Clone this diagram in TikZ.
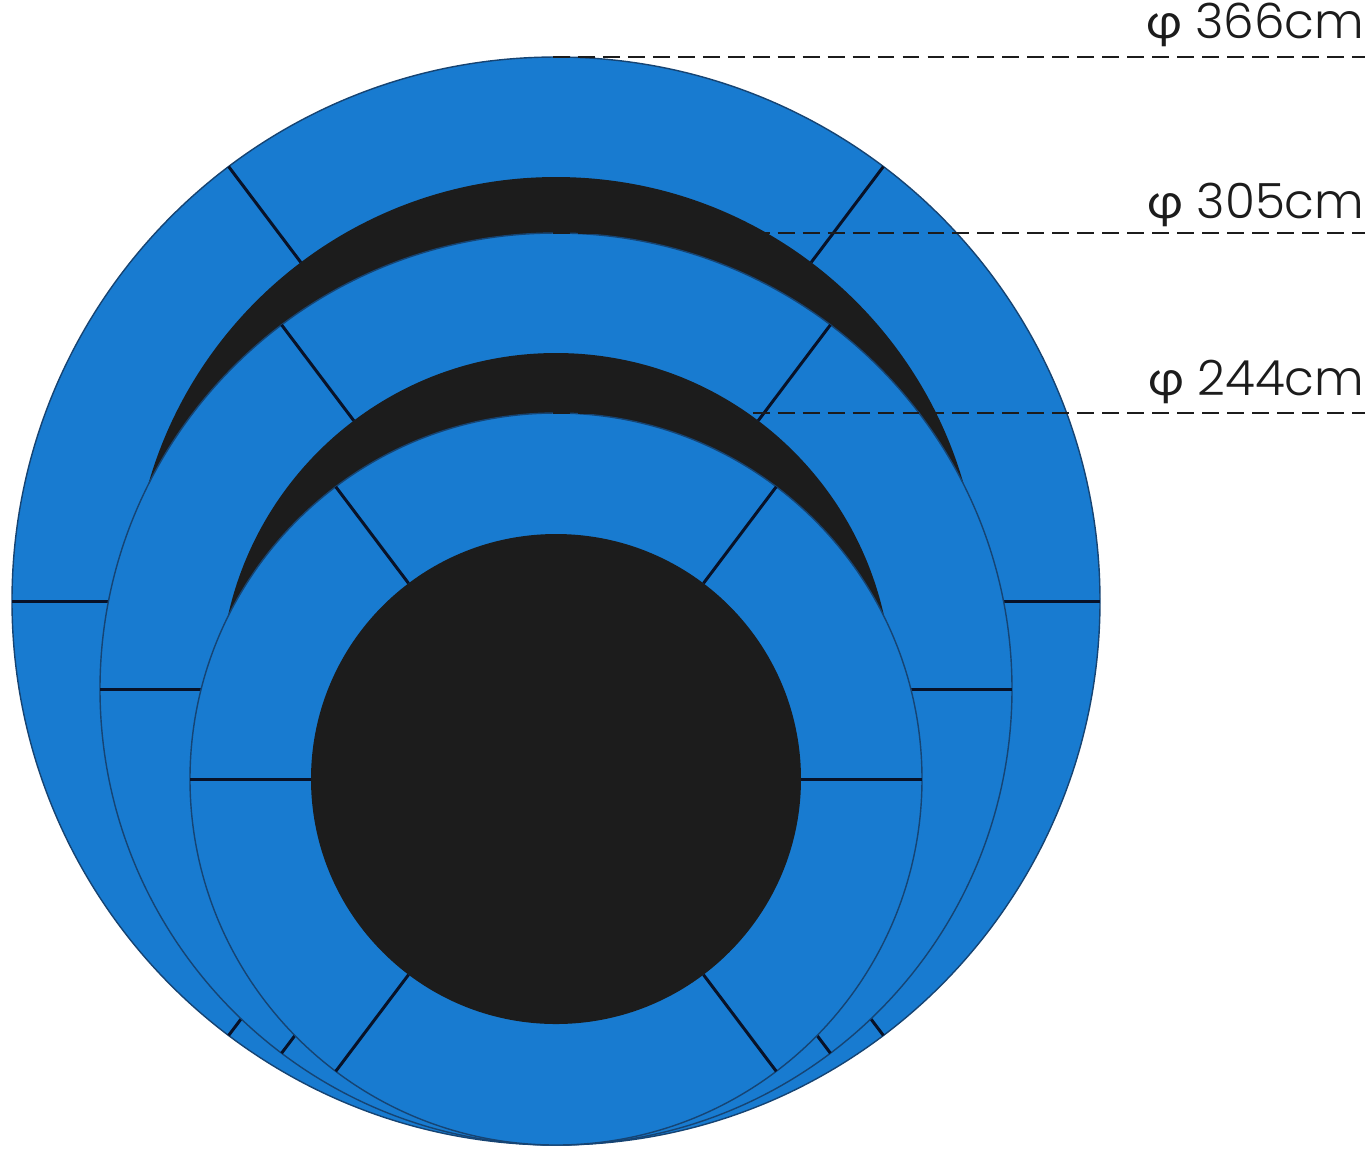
\documentclass[tikz,border=0pt]{standalone}
\usepackage{fontspec}
\setmainfont{Poppins Light}
\newfontfamily\grec{Lato}
\usetikzlibrary{calc}
\definecolor{bleu}{RGB}{24,123,208}
\definecolor{noir}{RGB}{28,28,28}
\definecolor{trait}{RGB}{8,18,40}
\definecolor{bord}{RGB}{22,68,115}
\tikzset{
  coussin/.style={fill=bleu, draw=bord, line width=0.4pt},
  toile/.style={fill=noir},
  joint/.style={draw=trait, line width=0.85pt},
  cote/.style={draw=noir, line width=0.55pt, dash pattern=on 4.8pt off 2.3pt},
  mesure/.style={anchor=base east, text=noir, font=\fontsize{13.8}{16}\selectfont, inner sep=0pt}
}
\begin{document}
\begin{tikzpicture}[x=0.01cm,y=-0.01cm]
	\useasboundingbox (0,0) rectangle (1372,1156);
	\coordinate (G) at (556,601);
	\coordinate (M) at (556,689);
	\coordinate (P) at (556,779);

	% grand trampoline
	\path[coussin] (G) circle (544);
	\path[toile] (G) circle (424);
	\foreach \a in {0,53,127,180,233,307}
		\draw[joint] ($(G)+(\a:424)$) -- ($(G)+(\a:544)$);

	% moyen trampoline
	\path[coussin] (M) circle (456);
	\path[toile] (M) circle (336);
	\foreach \a in {0,53,127,180,233,307}
		\draw[joint] ($(M)+(\a:336)$) -- ($(M)+(\a:456)$);

	% petit trampoline
	\path[coussin] (P) circle (366);
	\path[toile] (P) circle (245);
	\foreach \a in {0,53,127,180,233,307}
		\draw[joint] ($(P)+(\a:245)$) -- ($(P)+(\a:366)$);

	% les cotes
	\coordinate (tG) at (553,57);
	\coordinate (tM) at (553,233);
	\coordinate (tP) at (553,413);
	\node[mesure] (d366) at (1365,38) {{\grec φ} 366cm};
	\node[mesure] (d305) at (1365,218) {{\grec φ} 305cm};
	\node[mesure] (d244) at (1365,395) {{\grec φ} 244cm};
	\draw[cote] (tG) -- (tG -| d366.east);
	\draw[cote] (tM) -- (tM -| d305.east);
	\draw[cote] (tP) -- (tP -| d244.east);

\end{tikzpicture}
\end{document}
